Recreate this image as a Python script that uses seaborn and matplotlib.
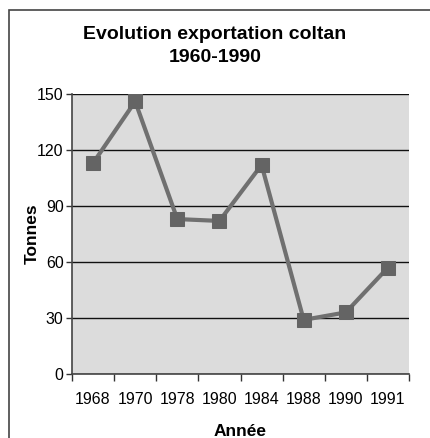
import matplotlib
matplotlib.use("Agg")
import matplotlib.pyplot as plt
from matplotlib.patches import Rectangle
import seaborn as sns
import pandas as pd

years = ["1968", "1970", "1978", "1980", "1984", "1988", "1990", "1991"]
tonnes = [113, 146, 83, 82, 112, 29, 33, 57]
y_ticks = [0, 30, 60, 90, 120, 150]

sns.set_theme(style="white")
plt.rcParams["font.family"] = ["Liberation Sans", "DejaVu Sans"]
plt.rcParams["text.color"] = "black"
plt.rcParams["axes.labelcolor"] = "black"

df = pd.DataFrame({"Année": years, "Tonnes": tonnes})

fig = plt.figure(figsize=(4.30, 4.38), dpi=100)
ax = fig.add_axes([72 / 430, 1 - 374 / 438, (409 - 72) / 430, 280 / 438])
ax.set_facecolor("#dcdcdc")

sns.lineplot(data=df, x="Année", y="Tonnes", ax=ax, sort=False,
             color="#707070", linewidth=3.0, marker="s", markersize=10,
             markerfacecolor="#646464", markeredgecolor="#646464")

ax.set_ylim(0, 150)
ax.set_yticks(y_ticks)
ax.set_xlim(-0.5, len(years) - 0.5)
ax.yaxis.grid(True, color="#111111", linewidth=1.0)
ax.set_axisbelow(True)

# category labels centred, tick marks on the category boundaries
ax.set_xticks(range(len(years)))
ax.set_xticklabels(years)
ax.set_xticks([i - 0.5 for i in range(len(years) + 1)], minor=True)
ax.tick_params(axis="x", which="major", length=0, pad=13, labelsize=11.5,
               colors="black")
ax.tick_params(axis="x", which="minor", length=5, width=1, color="#333333",
               bottom=True)
ax.tick_params(axis="y", which="major", length=4, width=1, color="#333333",
               left=True, pad=2, labelsize=11.5, colors="black")

for side in ("top", "right"):
    ax.spines[side].set_visible(False)
for side in ("left", "bottom"):
    ax.spines[side].set_color("#444444")
    ax.spines[side].set_linewidth(1.2)

ax.set_xlabel("Année", fontsize=12.5, fontweight="bold", labelpad=12)
ax.set_ylabel("Tonnes", fontsize=12.5, fontweight="bold", labelpad=-2)

fig.text(0.5, 1 - 46 / 438, "Evolution exportation coltan\n1960-1990",
         ha="center", va="center", fontsize=14, fontweight="bold",
         linespacing=1.4)

# outer frame around the chart
fig.patches.append(Rectangle((9 / 430, -0.1), 1.2, 1 - 10 / 438 + 0.1,
                             transform=fig.transFigure, fill=False,
                             edgecolor="#444444", linewidth=1.2))

fig.savefig("out.png", dpi=100, facecolor="white")
